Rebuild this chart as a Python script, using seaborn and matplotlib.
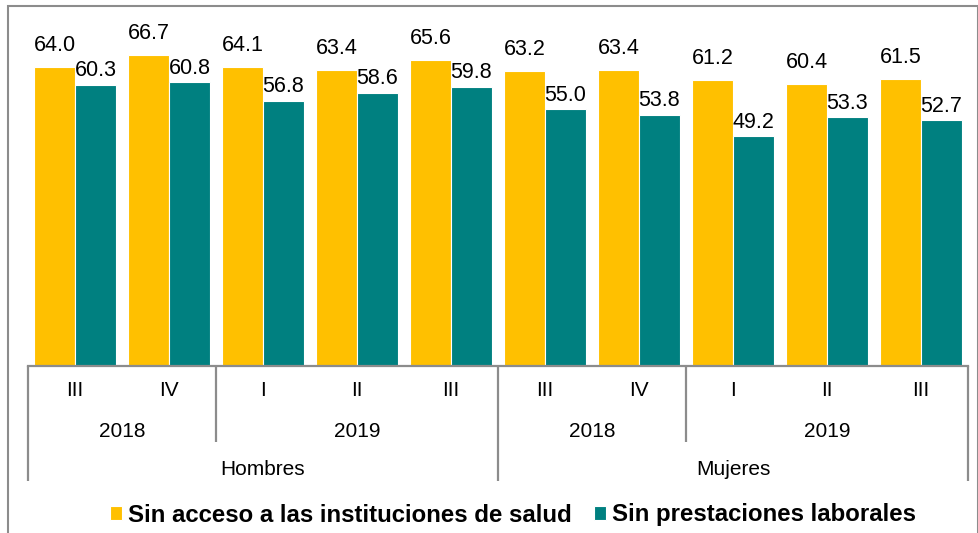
import matplotlib
matplotlib.use("Agg")
import matplotlib.pyplot as plt
import seaborn as sns
import pandas as pd
from matplotlib.patches import Rectangle

# Datos: porcentaje de ocupados por sexo, año y trimestre
sexos = ["Hombres", "Mujeres"]
anios = [["2018", "2019"], ["2018", "2019"]]
trimestres = [[["III", "IV"], ["I", "II", "III"]],
              [["III", "IV"], ["I", "II", "III"]]]
sin_salud = [64.0, 66.7, 64.1, 63.4, 65.6, 63.2, 63.4, 61.2, 60.4, 61.5]
sin_prestaciones = [60.3, 60.8, 56.8, 58.6, 59.8, 55.0, 53.8, 49.2, 53.3, 52.7]
series = ["Sin acceso a las instituciones de salud", "Sin prestaciones laborales"]
colores = ["#FFC000", "#008080"]

# Categorias planas para el eje x
cats = []
for s, sexo in enumerate(sexos):
    for a, anio in enumerate(anios[s]):
        for t in trimestres[s][a]:
            cats.append(f"{sexo}-{anio}-{t}")

df = pd.DataFrame({
    "cat": cats * 2,
    "valor": sin_salud + sin_prestaciones,
    "serie": [series[0]] * len(cats) + [series[1]] * len(cats),
})

sns.set_style("white")
plt.rcParams["font.family"] = ["Liberation Sans", "DejaVu Sans"]
plt.rcParams["text.color"] = "black"

W, H = 979, 533
fig = plt.figure(figsize=(W / 100, H / 100), dpi=100)
ymax = 70
px_per_unit = 4.667
ax = fig.add_axes([28 / W, 1 - 366 / H, 940 / W, ymax * px_per_unit / H])
ax_h = ymax * px_per_unit

sns.barplot(data=df, x="cat", y="valor", hue="serie", palette=colores,
            saturation=1, width=0.87, edgecolor="white", linewidth=0.8, ax=ax)
handles, labels = ax.get_legend_handles_labels()
ax.get_legend().remove()

ax.bar_label(ax.containers[0], fmt="%.1f", padding=8, fontsize=15.5, color="black")
ax.bar_label(ax.containers[1], fmt="%.1f", padding=2.5, fontsize=15.5, color="black")

ax.set_xlim(-0.5, len(cats) - 0.5)
ax.set_ylim(0, ymax)
ax.set_xticks([])
ax.set_yticks([])
ax.set_xlabel("")
ax.set_ylabel("")
sns.despine(ax=ax, left=True, top=True, right=True)
ax.spines["bottom"].set_color("#8c8c8c")
ax.spines["bottom"].set_linewidth(1.6)

gris = "#8c8c8c"
tr = ax.get_xaxis_transform()

def yoff(px):
    return -px / ax_h

def linea(x, px):
    ax.plot([x, x], [0, yoff(px)], transform=tr, color=gris, lw=1.6,
            clip_on=False, solid_capstyle="butt")

# Etiquetas jerarquicas
i = 0
for s, sexo in enumerate(sexos):
    inicio_sexo = i
    linea(i - 0.5, 115)
    for a, anio in enumerate(anios[s]):
        inicio_anio = i
        if a > 0:
            linea(i - 0.5, 76)
        for t in trimestres[s][a]:
            ax.text(i, yoff(25), t, transform=tr, ha="center", va="center",
                    fontsize=15, color="black")
            i += 1
        ax.text((inicio_anio + i - 1) / 2, yoff(65), anio, transform=tr,
                ha="center", va="center", fontsize=15, color="black")
    ax.text((inicio_sexo + i - 1) / 2, yoff(103), sexo, transform=tr,
            ha="center", va="center", fontsize=15, color="black")
linea(i - 0.5, 115)

# Marco exterior del grafico
fig.patches.append(Rectangle((8 / W, -0.1), (978 - 8) / W, 1 - 6 / H + 0.1,
                             transform=fig.transFigure, fill=False,
                             edgecolor="#8c8c8c", lw=1.5))

fig.legend(handles, labels, loc="center", bbox_to_anchor=(513 / W, 1 - 515 / H),
           ncol=2, frameon=False, prop={"weight": "bold", "size": 17.3},
           labelcolor="black", handlelength=0.5, handleheight=0.5,
           handletextpad=0.25, columnspacing=0.9, borderpad=0)

fig.savefig("out.png", dpi=100)
